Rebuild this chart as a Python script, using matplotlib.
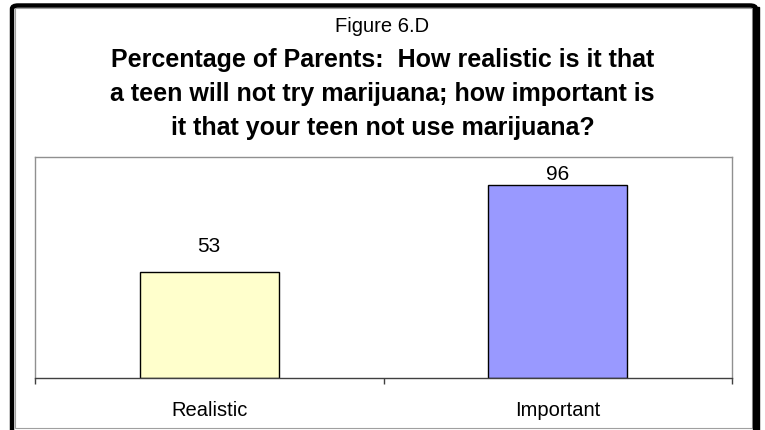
import matplotlib.pyplot as plt
from matplotlib.patches import FancyBboxPatch, Rectangle

categories = ['Realistic', 'Important']
values = [53, 96]
bar_colors = ['#FFFFCC', '#9999FF']
# vertical gap (px) between bar top and the centre of its value label
label_gap = [26, 12]

fig_title = 'Figure 6.D'
chart_title = ('Percentage of Parents:  How realistic is it that\n'
               'a teen will not try marijuana; how important is\n'
               'it that your teen not use marijuana?')

plt.rcParams['font.family'] = ['Liberation Sans', 'DejaVu Sans']

fig = plt.figure(figsize=(7.65, 4.31), dpi=100)
ax = fig.add_axes([35 / 765, 52 / 431, 697 / 765, 221 / 431])

x = list(range(len(categories)))
bars = ax.bar(x, values, width=0.4, color=bar_colors, edgecolor='black', linewidth=1)

for b, v, gap in zip(bars, values, label_gap):
    ax.annotate(str(v), (b.get_x() + b.get_width() / 2, v),
                xytext=(0, gap * 0.72), textcoords='offset points',
                ha='center', va='center', fontsize=15)

ax.set_xlim(-0.5, len(categories) - 0.5)
ax.set_ylim(0, 110)
ax.set_yticks([])
ax.set_xticks(x)
ax.set_xticklabels(categories, fontsize=14.5)
ax.tick_params(axis='x', which='major', length=0, pad=15.5)
ax.set_xticks([i - 0.5 for i in range(len(categories) + 1)], minor=True)
ax.tick_params(axis='x', which='minor', length=4, color='#404040', width=1)

for side in ['top', 'left', 'right']:
    ax.spines[side].set_color('#909090')
    ax.spines[side].set_linewidth(1)
ax.spines['bottom'].set_color('#404040')
ax.spines['bottom'].set_linewidth(1)

fig.text(0.5, 1 - 26 / 431, fig_title, ha='center', va='center', fontsize=14.5)
fig.text(0.5, 1 - 94 / 431, chart_title, ha='center', va='center',
         fontsize=18, fontweight='bold', linespacing=1.5)

# inner grey border and outer black frame
fig.patches.append(Rectangle((15 / 765, 2.5 / 431), 737 / 765, 420 / 431,
                             transform=fig.transFigure, fill=False,
                             edgecolor='#a0a0a0', linewidth=0.8))
frame = FancyBboxPatch((12 / 765, -10 / 431), 744 / 765, 434.5 / 431,
                       boxstyle='round,pad=0,rounding_size=0.008',
                       transform=fig.transFigure, fill=False,
                       edgecolor='black', linewidth=3.2)
fig.patches.append(frame)
fig.patches.append(Rectangle((753 / 765, -0.01), 6 / 765, 427 / 431,
                             transform=fig.transFigure, color='black'))

fig.savefig('out.png', dpi=100)
